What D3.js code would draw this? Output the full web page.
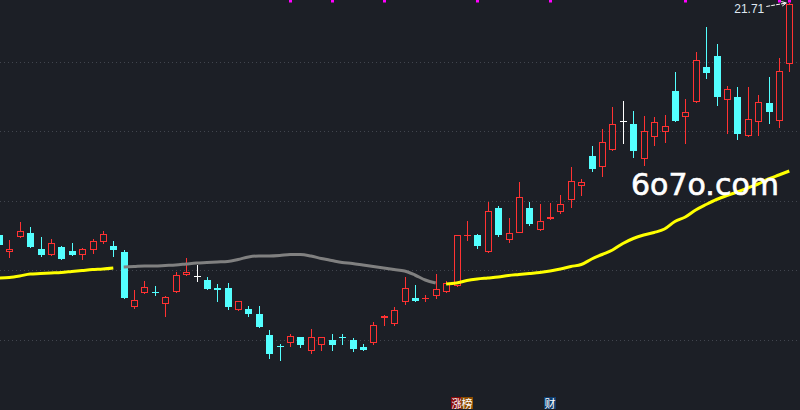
<!DOCTYPE html>
<html>
<head>
<meta charset="utf-8">
<script src="https://cdn.jsdelivr.net/npm/d3@7"></script>
<style>
  html, body { margin: 0; padding: 0; background: #1c1f26; overflow: hidden; }
  svg { display: block; }
</style>
</head>
<body>
<svg width="800" height="410"></svg>
<script>
const width = 800;
const height = 410;

// candles, index -1 is the one cut by the left edge
const idx = d3.range(-1, 76);

const open = [17.07, 16.73, 17.03, 17.11, 16.79, 16.67, 16.83, 16.75, 16.67, 16.77, 16.93, 16.85, 16.73, 15.63, 15.91, 15.94,
  15.69, 15.93, 16.27, 16.25, 16.17, 16.01, 16.01, 15.57, 15.59, 15.49, 15.07, 14.85, 14.91, 15.03, 14.75, 14.87,
  14.97, 15.03, 14.97, 14.83, 14.91, 15.41, 15.29, 15.73, 15.81, 15.80, 15.85, 15.93, 16.05, 17.06, 17.07, 16.73,
  17.61, 16.97, 17.11, 17.61, 17.17, 17.39, 17.53, 17.77, 18.05, 18.65, 18.43, 18.77, 19.35, 19.29, 18.59, 19.03,
  19.13, 19.95, 19.43, 19.73, 20.43, 20.65, 19.77, 19.83, 19.05, 19.33, 19.71, 19.35, 20.49];

const high = [17.11, 16.97, 17.33, 17.23, 17.03, 16.99, 16.85, 16.91, 16.81, 16.99, 17.15, 16.95, 16.77, 15.97, 16.15, 16.05,
  15.85, 16.33, 16.61, 16.47, 16.23, 16.09, 16.11, 15.76, 15.65, 15.65, 15.17, 14.89, 15.09, 15.04, 15.19, 15.04,
  15.09, 15.09, 15.01, 14.89, 15.33, 15.46, 15.63, 16.23, 16.07, 15.87, 16.29, 16.15, 17.08, 17.35, 17.09, 17.73,
  17.65, 17.41, 18.13, 17.73, 17.69, 17.71, 17.87, 18.43, 18.19, 18.85, 19.19, 19.63, 19.75, 19.55, 19.45, 19.43,
  19.47, 20.33, 19.79, 20.73, 21.23, 20.89, 20.05, 20.03, 20.03, 19.87, 20.23, 20.61, 21.71];

const low = [16.85, 16.61, 17.01, 16.81, 16.63, 16.66, 16.57, 16.65, 16.57, 16.69, 16.89, 16.63, 15.79, 15.59, 15.90, 15.85,
  15.43, 15.92, 16.25, 16.13, 15.97, 15.73, 15.57, 15.55, 15.43, 15.21, 14.59, 14.55, 14.83, 14.81, 14.69, 14.75,
  14.75, 14.87, 14.73, 14.75, 14.87, 15.25, 15.25, 15.67, 15.73, 15.73, 15.79, 15.91, 16.03, 16.95, 16.79, 16.72,
  17.03, 16.91, 17.10, 17.25, 17.16, 17.37, 17.49, 17.61, 17.85, 18.33, 18.23, 18.75, 18.89, 18.61, 18.45, 18.85,
  18.91, 19.34, 18.89, 19.72, 20.19, 19.65, 19.09, 18.97, 19.04, 19.05, 19.29, 19.21, 20.33];

const close = [16.87, 16.79, 17.15, 16.83, 16.67, 16.91, 16.59, 16.67, 16.79, 16.95, 17.09, 16.77, 15.81, 15.77, 16.03, 15.93,
  15.83, 16.27, 16.33, 16.25, 15.99, 15.97, 15.63, 15.75, 15.49, 15.23, 14.69, 14.84, 15.05, 14.87, 15.03, 15.03,
  14.87, 15.02, 14.79, 14.77, 15.27, 15.45, 15.57, 16.01, 15.75, 15.81, 15.99, 16.11, 17.07, 17.07, 16.85, 17.55,
  17.07, 17.11, 17.83, 17.29, 17.35, 17.43, 17.69, 18.15, 18.13, 18.39, 18.93, 19.29, 19.35, 18.75, 19.15, 19.33,
  19.25, 19.35, 19.53, 20.57, 20.31, 19.83, 19.99, 19.09, 19.39, 19.73, 19.53, 20.35, 21.70];

// moving average under the candles
const ma = [16.21, 16.22, 16.25, 16.29, 16.30, 16.31, 16.32, 16.34, 16.36, 16.38, 16.39, 16.41, 16.43, 16.44, 16.45, 16.45,
  16.46, 16.47, 16.49, 16.51, 16.52, 16.53, 16.54, 16.58, 16.63, 16.65, 16.65, 16.66, 16.68, 16.68, 16.65, 16.60,
  16.56, 16.52, 16.50, 16.47, 16.44, 16.41, 16.38, 16.35, 16.27, 16.17, 16.11, 16.09, 16.11, 16.16, 16.19, 16.21,
  16.23, 16.26, 16.28, 16.30, 16.32, 16.35, 16.39, 16.44, 16.48, 16.59, 16.68, 16.77, 16.90, 17.00, 17.07, 17.12,
  17.19, 17.34, 17.43, 17.57, 17.68, 17.78, 17.86, 17.93, 18.01, 18.09, 18.19, 18.27, 18.35];

const gridValues = [20.53, 19.15, 17.75, 16.37, 14.97];

// little magenta flags on top and the tags at the bottom
const markIdx = [27, 31, 36, 45, 52, 65, 74, 75];
const tagText = ["涨", "榜", "财"];
const tagIdx = [43, 44, 52];

const lastLabel = "21.71";
const watermark = "6o7o.com";

const bg = "#1c1f26";
const red = "#ff3232";
const cyan = "#54ffff";

function getTagColor (t) {
  switch (t) {
    case "涨": return "#880a0a";
    case "榜": return "#8c4c00";
    case "财": return "#0f3d6e";
    default: return "#444";
  }
}

const x = d3.scaleLinear().domain([0, 75]).range([9.3, 789.3]);
const y = d3.scaleLinear().domain([13.57, 21.77]).range([height, 0]);

const svg = d3.select("svg");

svg.append("rect").attr("width", width).attr("height", height).attr("fill", bg);

// dotted grid
svg.append("g")
  .selectAll("line")
  .data(gridValues)
  .enter()
  .append("line")
  .attr("x1", 0)
  .attr("x2", width)
  .attr("y1", d => Math.round(y(d)) + 0.5)
  .attr("y2", d => Math.round(y(d)) + 0.5)
  .attr("stroke", "#41454e")
  .attr("stroke-dasharray", "1,3");

// candles
const rows = idx.map((i, k) => ({ i, o: open[k], h: high[k], l: low[k], c: close[k] }));
const px = d => Math.round(x(d.i));
const py = v => Math.round(y(v));

const candles = svg.append("g").attr("shape-rendering", "crispEdges");

rows.forEach(d => {
  const cx = px(d);
  const g = candles.append("g");
  if (d.c > d.o) {
    // up day: hollow red box, wick outside the box
    const top = py(d.c), bot = Math.max(py(d.o), py(d.c) + 1);
    g.append("line").attr("x1", cx + 0.5).attr("x2", cx + 0.5)
      .attr("y1", py(d.h)).attr("y2", top).attr("stroke", red);
    g.append("line").attr("x1", cx + 0.5).attr("x2", cx + 0.5)
      .attr("y1", bot).attr("y2", py(d.l)).attr("stroke", red);
    g.append("rect")
      .attr("x", cx - 3 + 0.5).attr("y", top + 0.5)
      .attr("width", 6).attr("height", Math.max(bot - top - 1, 0.01))
      .attr("fill", bg).attr("stroke", red).attr("stroke-width", 1);
  } else if (d.c < d.o) {
    const top = py(d.o), bot = py(d.c);
    g.append("line").attr("x1", cx + 0.5).attr("x2", cx + 0.5)
      .attr("y1", py(d.h)).attr("y2", py(d.l)).attr("stroke", cyan);
    g.append("rect")
      .attr("x", cx - 3).attr("y", top)
      .attr("width", 7).attr("height", Math.max(bot - top, 1))
      .attr("fill", cyan);
  } else {
    // flat day, white cross
    g.append("line").attr("x1", cx + 0.5).attr("x2", cx + 0.5)
      .attr("y1", py(d.h)).attr("y2", py(d.l)).attr("stroke", "#fff");
    g.append("line").attr("x1", cx - 3).attr("x2", cx + 4)
      .attr("y1", py(d.c) + 0.5).attr("y2", py(d.c) + 0.5).attr("stroke", "#fff");
  }
});

// MA: yellow while close is above it, grey while below, no segment where it flips
const above = idx.map((i, k) => close[k] >= ma[k]);
const runs = [];
let cur = [0];
for (let k = 1; k < idx.length; k++) {
  if (above[k] === above[k - 1]) cur.push(k);
  else { runs.push(cur); cur = [k]; }
}
runs.push(cur);

const maLine = d3.line()
  .x(k => x(idx[k]))
  .y(k => y(ma[k]))
  .curve(d3.curveMonotoneX);

svg.append("g")
  .selectAll("path")
  .data(runs.filter(r => r.length > 1))
  .enter()
  .append("path")
  .attr("d", maLine)
  .attr("fill", "none")
  .attr("stroke", r => above[r[0]] ? "#ffff00" : "#808080")
  .attr("stroke-width", 3);

// flags on the top edge
svg.append("g")
  .selectAll("rect")
  .data(markIdx)
  .enter()
  .append("rect")
  .attr("x", d => Math.round(x(d)) - 1)
  .attr("y", 0)
  .attr("width", 3)
  .attr("height", 2.5)
  .attr("fill", "#ff00ff");

// tags at the bottom
const tags = svg.append("g")
  .selectAll("g")
  .data(tagText.map((t, k) => ({ t, i: tagIdx[k] })))
  .enter()
  .append("g");

tags.append("rect")
  .attr("x", d => Math.round(x(d.i)) - 6)
  .attr("y", 397)
  .attr("width", 12)
  .attr("height", 12)
  .attr("fill", d => getTagColor(d.t));

tags.append("text")
  .attr("x", d => Math.round(x(d.i)))
  .attr("y", 407.5)
  .attr("text-anchor", "middle")
  .attr("font-family", "Noto Sans CJK SC")
  .attr("font-size", 11)
  .attr("fill", "#fff")
  .text(d => d.t);

// label for the highest high
const hx = x(75), hy = y(high[76]);
svg.append("text")
  .attr("x", hx - 25)
  .attr("y", hy + 9.5)
  .attr("text-anchor", "end")
  .attr("font-family", "Liberation Sans, Arial, sans-serif")
  .attr("font-size", 12)
  .attr("fill", "#dfe8f2")
  .text(lastLabel);

svg.append("line")
  .attr("x1", hx - 23).attr("y1", hy + 3.5)
  .attr("x2", hx - 3).attr("y2", hy)
  .attr("stroke", "#fff")
  .attr("stroke-dasharray", "4,1");
svg.append("path")
  .attr("d", `M${hx - 8},${hy - 1.5} L${hx - 3},${hy} L${hx - 7},${hy + 3}`)
  .attr("fill", "none")
  .attr("stroke", "#fff");

// watermark
svg.append("text")
  .attr("x", 631)
  .attr("y", 194.5)
  .attr("font-family", "DejaVu Sans")
  .attr("font-size", 30)
  .attr("fill", "#fff")
  .attr("stroke", "#fff")
  .attr("stroke-width", 0.6)
  .text(watermark);
</script>
</body>
</html>
